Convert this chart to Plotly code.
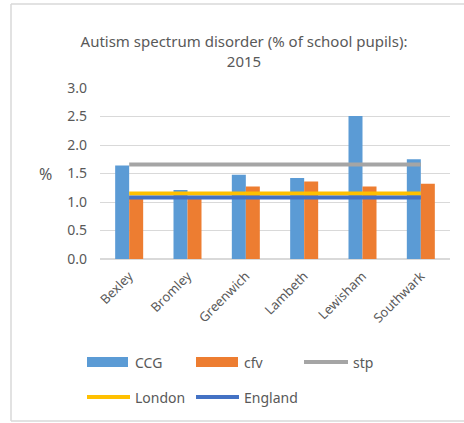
import plotly.graph_objects as go

categories = ["Bexley", "Bromley", "Greenwich", "Lambeth", "Lewisham", "Southwark"]
ccg = [1.64, 1.21, 1.48, 1.42, 2.51, 1.75]
cfv = [1.10, 1.10, 1.27, 1.36, 1.27, 1.32]
stp = [1.66] * 6
london = [1.15] * 6
england = [1.08] * 6
y_ticks = [0.0, 0.5, 1.0, 1.5, 2.0, 2.5, 3.0]
y_tick_labels = ["0.0", "0.5", "1.0", "1.5", "2.0", "2.5", "3.0"]

C_CCG = "#5B9BD5"
C_CFV = "#ED7D31"
C_STP = "#A5A5A5"
C_LON = "#FFC000"
C_ENG = "#4472C4"
TXT = "#595959"
FONT = "Noto Sans"

fig = go.Figure()
fig.add_bar(x=categories, y=ccg, name="CCG", marker=dict(color=C_CCG, line=dict(width=0)))
fig.add_bar(x=categories, y=cfv, name="cfv", marker=dict(color=C_CFV, line=dict(width=0)))
fig.add_scatter(x=categories, y=stp, name="stp", mode="lines", line=dict(color=C_STP, width=4))
fig.add_scatter(x=categories, y=london, name="London", mode="lines", line=dict(color=C_LON, width=4))
fig.add_scatter(x=categories, y=england, name="England", mode="lines", line=dict(color=C_ENG, width=4))

W, H = 464, 423
L, R, T, B = 100, 14, 88, 164
def px(x): return (x - L) / (W - L - R)
def py(y): return (H - B - y) / (H - T - B)

border = dict(color="#D9D9D9", width=1.5)
shapes = [
    dict(type="line", xref="paper", yref="paper", x0=px(11), x1=px(11), y0=py(421), y1=py(4), line=border, layer="below"),
    dict(type="line", xref="paper", yref="paper", x0=px(11), x1=px(470), y0=py(4), y1=py(4), line=border, layer="below"),
    dict(type="line", xref="paper", yref="paper", x0=px(11), x1=px(470), y0=py(421), y1=py(421), line=border, layer="below"),
]
annotations = [dict(text="%", xref="paper", yref="paper", x=px(45), y=py(174), showarrow=False,
                    font=dict(family=FONT, size=16, color=TXT), xanchor="center", yanchor="middle")]

legend_items = [
    ("CCG", C_CCG, "bar", 87, 128, 362, 133),
    ("cfv", C_CFV, "bar", 196, 238, 362, 242),
    ("stp", C_STP, "line", 304, 348, 362, 351),
    ("London", C_LON, "line", 87, 130, 397, 133),
    ("England", C_ENG, "line", 196, 239, 397, 242),
]
for name, col, kind, x0, x1, yc, tx in legend_items:
    if kind == "bar":
        shapes.append(dict(type="rect", xref="paper", yref="paper", x0=px(x0), x1=px(x1),
                           y0=py(yc + 5), y1=py(yc - 5), fillcolor=col, line=dict(width=0)))
    else:
        shapes.append(dict(type="line", xref="paper", yref="paper", x0=px(x0), x1=px(x1),
                           y0=py(yc), y1=py(yc), line=dict(color=col, width=4)))
    annotations.append(dict(text=name, xref="paper", yref="paper", x=px(tx), y=py(yc),
                            showarrow=False, xanchor="left", yanchor="middle",
                            font=dict(family=FONT, size=14, color=TXT)))

fig.update_layout(
    width=W, height=H,
    margin=dict(l=L, r=R, t=T, b=B, autoexpand=False),
    paper_bgcolor="white", plot_bgcolor="white",
    barmode="group", bargap=0.52, bargroupgap=0,
    showlegend=False,
    title=dict(text="Autism spectrum disorder (% of school pupils):<br>2015",
               x=244 / W, xanchor="center", y=1 - 47 / H, yanchor="middle",
               font=dict(family=FONT, size=15, color=TXT)),
    shapes=shapes, annotations=annotations,
)
fig.update_yaxes(range=[0, 3], tickvals=y_ticks, ticktext=y_tick_labels, automargin=False,
                 gridcolor="#D9D9D9", gridwidth=1, zeroline=True, zerolinecolor="#D9D9D9",
                 showline=False, ticks="", ticklabelstandoff=12,
                 tickfont=dict(family=FONT, size=14, color=TXT))
fig.update_xaxes(tickangle=-45, showline=False, ticks="", showgrid=False, automargin=False,
                 ticklabelstandoff=6,
                 tickfont=dict(family=FONT, size=13, color=TXT))

fig.write_html("out.html", config={"displayModeBar": False},
               post_script="document.body.style.margin='0';document.body.style.overflow='hidden';")
